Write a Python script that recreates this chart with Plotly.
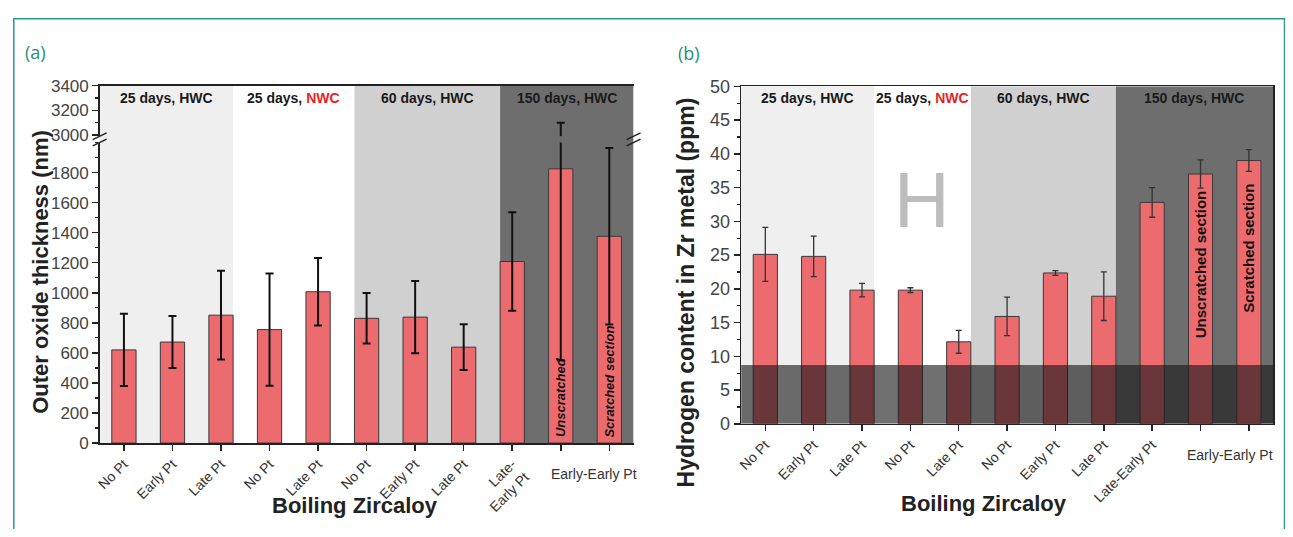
import plotly.graph_objects as go

# ---------------- data ----------------
cats_a = ["No Pt", "Early Pt", "Late Pt", "No Pt", "Late Pt", "No Pt", "Early Pt",
          "Late Pt", "Late-<br>Early Pt", "", ""]
oxide_nm = [620, 672, 851, 755, 1007, 830, 838, 638, 1208, 1825, 1376]
oxide_err = [240, 173, 295, 373, 224, 168, 240, 152, 328, 1275, 587]

cats_b = ["No Pt", "Early Pt", "Late Pt", "No Pt", "Late Pt", "No Pt", "Early Pt",
          "Late Pt", "Late-Early Pt", "", ""]
hydrogen_ppm = [25.1, 24.8, 19.8, 19.8, 12.15, 15.9, 22.35, 18.9, 32.8, 37.0, 39.0]
hydrogen_err = [4.0, 3.0, 1.0, 0.35, 1.7, 2.85, 0.35, 3.6, 2.2, 2.1, 1.6]

shared_label = "Early-Early Pt"
groups = ["25 days, HWC", "25 days, <span style='color:#e8231f'>NWC</span>",
          "60 days, HWC", "150 days, HWC"]
group_edges_a = [-0.5, 2.25, 4.75, 7.75, 10.5]
group_edges_b = [-0.5, 2.25, 4.25, 7.25, 10.5]
group_fill = ["#efefef", "#ffffff", "#d0d0d0", "#6e6e6e"]
h_band_top = 8.7
y_ticks_low = [0, 200, 400, 600, 800, 1000, 1200, 1400, 1600, 1800]
y_ticks_high = [3000, 3200, 3400]
y_ticks_b = [0, 5, 10, 15, 20, 25, 30, 35, 40, 45, 50]

# ---------------- layout helpers ----------------
# page is 1293x537; the browser's default 8px body margin surrounds the figure
PAGE_W, PAGE_H, OFF = 1293, 537, 8
W, H = PAGE_W - 2 * OFF, PAGE_H - 2 * OFF
def px(x):
    return (x - OFF) / W
def py(y):
    return 1 - (y - OFF) / H

FONT = "Liberation Sans, Arial, sans-serif"
BAR = "#ec6b6f"
AX = "#222222"
TEAL = "#1f8f84"
idx = list(range(len(oxide_nm)))

xa_dom = [px(95), px(631)]
ya_low = [py(450), py(137.5)]
ya_high = [py(131), py(78.3)]
xb_dom = [px(739), px(1273)]
yb_dom = [py(430), py(79)]

fig = go.Figure()

bar_style = dict(marker=dict(color=BAR, line=dict(color="#3a3a3a", width=1)), width=0.5,
                 showlegend=False, hoverinfo="skip")
err_a = dict(type="data", array=oxide_err, color="#111111", thickness=2, width=4)
fig.add_trace(go.Bar(x=idx, y=oxide_nm, error_y=err_a, xaxis="x", yaxis="y", **bar_style))
fig.add_trace(go.Bar(x=idx, y=oxide_nm, error_y=err_a, xaxis="x2", yaxis="y2", **bar_style))
fig.add_trace(go.Bar(x=idx, y=hydrogen_ppm,
                     error_y=dict(type="data", array=hydrogen_err, color="#333333", thickness=1.3, width=3),
                     xaxis="x3", yaxis="y5", **bar_style))

xcommon = dict(range=[-0.5, 10.5], showgrid=False, zeroline=False, showline=True,
               linecolor=AX, linewidth=1.5)
ycommon = dict(showgrid=False, zeroline=False, showline=True, linecolor=AX, linewidth=1.5,
               tickcolor=AX, tickwidth=1.5, ticklen=6)
tf_a = dict(size=17, color="#444", family=FONT)
tf_b = dict(size=18, color="#444", family=FONT)
xtf = dict(size=14, color="#333", family=FONT)

fig.update_layout(
    width=W, height=H, autosize=False,
    margin=dict(l=0, r=0, t=0, b=0),
    paper_bgcolor="white", plot_bgcolor="rgba(0,0,0,0)",
    bargap=0.5, font=dict(family=FONT),
    xaxis=dict(domain=xa_dom, anchor="y", tickmode="array", tickvals=idx, ticktext=cats_a,
               tickangle=-45, ticks="outside", ticklen=6, tickwidth=1.5, tickcolor=AX,
               tickfont=xtf, **xcommon),
    yaxis=dict(domain=ya_low, anchor="x", range=[0, 2000], tickmode="array", tickvals=y_ticks_low,
               ticks="outside", tickfont=tf_a,
               minor=dict(tickmode="linear", tick0=0, dtick=100, ticks="outside", ticklen=3,
                          tickcolor=AX, tickwidth=1.2), **ycommon),
    yaxis3=dict(overlaying="y", anchor="x", side="right", range=[0, 2000], tickmode="array",
                tickvals=y_ticks_low, ticks="inside", showticklabels=False,
                minor=dict(tickmode="linear", tick0=0, dtick=100, ticks="inside", ticklen=3,
                           tickcolor=AX, tickwidth=1.2), **ycommon),
    xaxis2=dict(domain=xa_dom, anchor="y2", side="top", showticklabels=False, ticks="", **xcommon),
    yaxis2=dict(domain=ya_high, anchor="x2", range=[2990, 3400], tickmode="array",
                tickvals=y_ticks_high, ticks="outside", tickfont=tf_a,
                minor=dict(tickmode="linear", tick0=3000, dtick=100, ticks="outside", ticklen=3,
                           tickcolor=AX, tickwidth=1.2), **ycommon),
    yaxis4=dict(overlaying="y2", anchor="x2", side="right", range=[2990, 3400], tickmode="array",
                tickvals=y_ticks_high, ticks="inside", showticklabels=False,
                minor=dict(tickmode="linear", tick0=3000, dtick=100, ticks="inside", ticklen=3,
                           tickcolor=AX, tickwidth=1.2), **ycommon),
    xaxis3=dict(domain=xb_dom, anchor="y5", tickmode="array", tickvals=idx, ticktext=cats_b,
                tickangle=-45, ticks="outside", ticklen=6, tickwidth=1.5, tickcolor=AX, mirror=True,
                tickfont=xtf, **xcommon),
    yaxis5=dict(domain=yb_dom, anchor="x3", range=[0, 50], tickmode="array", tickvals=y_ticks_b,
                ticks="outside", mirror=True, tickfont=tf_b,
                minor=dict(tickmode="linear", tick0=0, dtick=2.5, ticks="outside", ticklen=3,
                           tickcolor=AX, tickwidth=1.2), **ycommon),
)

shapes = []
# group backgrounds
for i, col in enumerate(group_fill):
    shapes.append(dict(type="rect", xref="x", yref="paper", x0=group_edges_a[i], x1=group_edges_a[i + 1],
                       y0=ya_low[0], y1=ya_high[1], fillcolor=col, line=dict(width=0), layer="below"))
    shapes.append(dict(type="rect", xref="x3", yref="y5", x0=group_edges_b[i], x1=group_edges_b[i + 1],
                       y0=0, y1=50, fillcolor=col, line=dict(width=0), layer="below"))
# dark band in (b)
shapes.append(dict(type="rect", xref="x3", yref="y5", x0=-0.5, x1=10.5, y0=0, y1=h_band_top,
                   fillcolor="rgba(25,25,25,0.62)", line=dict(width=0), layer="above"))
# axis break marks
for xb in (95, 631):
    for yb in (131, 137.5):
        shapes.append(dict(type="line", xref="paper", yref="paper",
                           x0=px(xb - 7), y0=py(yb + 3.5), x1=px(xb + 7), y1=py(yb - 3.5),
                           line=dict(color=AX, width=1.5)))
# outer frame
shapes.append(dict(type="rect", xref="paper", yref="paper", x0=px(8.8), x1=px(1284.5), y0=-0.1, y1=py(8.8),
                   line=dict(color="#2b9a8d", width=1.5), fillcolor="rgba(0,0,0,0)"))

C = dict(xanchor="center", yanchor="middle", showarrow=False)
ann = []
lab_font = dict(size=14, color="#1a1a1a", family=FONT)
for i, g in enumerate(groups):
    ca = (group_edges_a[i] + group_edges_a[i + 1]) / 2
    cb = (group_edges_b[i] + group_edges_b[i + 1]) / 2
    ann.append(dict(text="<b>" + g + "</b>", x=ca, xref="x", y=py(91), yref="paper", font=lab_font, **C))
    ann.append(dict(text="<b>" + g + "</b>", x=cb, xref="x3", y=py(91), yref="paper", font=lab_font, **C))

B = dict(xanchor="center", yanchor="bottom", showarrow=False, textangle=-90)
ann += [
    dict(text="<b><i>Unscratched</i></b>", x=9, xref="x", y=25, yref="y",
         font=dict(size=13, color="#111", family=FONT), **B),
    dict(text="<b><i>Scratched section</i></b>", x=10, xref="x", y=25, yref="y",
         font=dict(size=13, color="#111", family=FONT), **B),
    dict(text="<b>Unscratched section</b>", x=9, xref="x3", y=12.3, yref="y5",
         font=dict(size=15, color="#111", family=FONT), **B),
    dict(text="<b>Scratched section</b>", x=10, xref="x3", y=16.2, yref="y5",
         font=dict(size=15, color="#111", family=FONT), **B),
    dict(text="H", x=3.25, xref="x3", y=py(197.5), yref="paper",
         font=dict(size=77, color="#bdbdbd", family=FONT), **C),
    dict(text=shared_label, x=9.68, xref="x", y=py(482), yref="paper", font=xtf, **C),
    dict(text=shared_label, x=9.6, xref="x3", y=py(462), yref="paper", font=xtf, **C),
    dict(text="<b>Outer oxide thickness (nm)</b>", x=px(36), y=py(272), xref="paper", yref="paper",
         textangle=-90, font=dict(size=22, color="#222", family=FONT), **C),
    dict(text="<b>Hydrogen content in Zr metal (ppm)</b>", x=px(684), y=py(293), xref="paper",
         yref="paper", textangle=-90, font=dict(size=23, color="#222", family=FONT), **C),
    dict(text="<b>Boiling Zircaloy</b>", x=px(351), y=py(515), xref="paper", yref="paper",
         font=dict(size=22, color="#222", family=FONT), **C),
    dict(text="<b>Boiling Zircaloy</b>", x=px(983), y=py(513), xref="paper", yref="paper",
         font=dict(size=22, color="#222", family=FONT), **C),
    dict(text="(a)", x=px(31), y=py(43), xref="paper", yref="paper",
         font=dict(size=18, color=TEAL, family="Open Sans, sans-serif"), **C),
    dict(text="(b)", x=px(687), y=py(44), xref="paper", yref="paper",
         font=dict(size=18, color=TEAL, family="Open Sans, sans-serif"), **C),
]

fig.update_layout(shapes=shapes, annotations=ann)
fig.write_html("out.html", config={"displayModeBar": False, "staticPlot": True})
